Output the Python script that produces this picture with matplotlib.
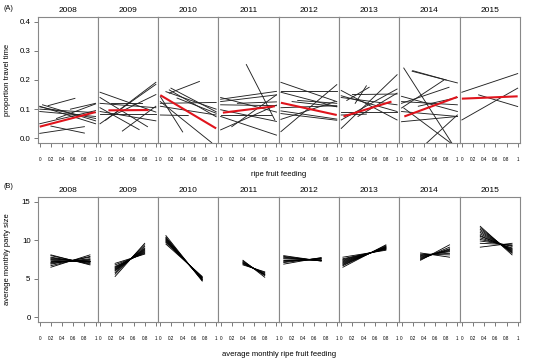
import numpy as np
import matplotlib.pyplot as plt

plt.rcParams['font.family'] = ['Liberation Sans', 'DejaVu Sans']

years = ['2008', '2009', '2010', '2011', '2012', '2013', '2014', '2015']
x_ticks = [0, 0.2, 0.4, 0.6, 0.8, 1]
x_tick_labels = ['0', '0.2', '0.4', '0.6', '0.8', '1']

# (A) individual lines: (x0, y0, x1, y1)
travel_2008 = [(0, 0.110, 1, 0.050), (0, 0.108, 1, 0.068), (0.15, 0.112, 0.63, 0.137),
               (0, 0.092, 1, 0.075), (0.05, 0.115, 1, 0.060), (0.3, 0.068, 1, 0.118),
               (0.55, 0.100, 1, 0.120), (0, 0.017, 0.8, 0.040), (0.2, 0.042, 0.8, 0.018),
               (0, 0.050, 1, 0.095), (0, 0.100, 1, 0.088)]
travel_2009 = [(0, 0.158, 1, 0.090), (0, 0.140, 0.85, 0.040), (0, 0.050, 1, 0.185),
               (0.1, 0.062, 1, 0.192), (0.4, 0.025, 1, 0.110), (0, 0.120, 1, 0.105),
               (0, 0.092, 1, 0.060), (0, 0.085, 1, 0.085), (0.2, 0.120, 0.75, 0.120),
               (0, 0.105, 0.7, 0.030), (0.25, 0.080, 1, 0.150)]
travel_2010 = [(0, 0.143, 0.4, 0.022), (0, 0.126, 0.92, -0.015), (0.19, 0.172, 1, 0.091),
               (0.16, 0.166, 1, 0.074), (0.16, 0.155, 0.7, 0.195), (0, 0.120, 1, 0.123),
               (0, 0.080, 0.5, 0.078), (0, 0.110, 1, 0.080), (0.3, 0.138, 1, 0.086),
               (0.1, 0.160, 1, 0.100)]
travel_2011 = [(0.46, 0.253, 0.97, 0.063), (0, 0.134, 1, 0.161), (0, 0.126, 1, 0.149),
               (0, 0.115, 1, 0.112), (0, 0.098, 1, 0.058), (0, 0.029, 1, 0.114),
               (0.2, 0.040, 1, 0.149), (0, 0.075, 1, 0.011), (0, 0.081, 0.9, 0.081),
               (0.3, 0.120, 1, 0.125), (0, 0.140, 1, 0.090)]
travel_2012 = [(0, 0.192, 1, 0.126), (0, 0.164, 1, 0.164), (0, 0.158, 1, 0.108),
               (0, 0.094, 1, 0.066), (0, 0.023, 1, 0.184), (0, 0.065, 0.97, 0.126),
               (0.2, 0.126, 1, 0.109), (0, 0.085, 1, 0.062), (0, 0.105, 1, 0.112),
               (0.3, 0.130, 1, 0.120)]
travel_2013 = [(0, 0.164, 1, 0.063), (0, 0.146, 1, 0.092), (0, 0.034, 1, 0.218),
               (0, 0.063, 1, 0.169), (0.25, 0.120, 0.45, 0.180), (0, 0.090, 1, 0.090),
               (0.2, 0.150, 1, 0.152), (0, 0.080, 0.45, 0.083), (0, 0.140, 1, 0.115),
               (0.3, 0.075, 1, 0.155), (0.1, 0.130, 0.5, 0.175)]
travel_2014 = [(0.04, 0.241, 0.9, -0.016), (0.19, 0.230, 1, 0.190), (0.2, 0.232, 0.8, 0.200),
               (0, 0.104, 0.76, 0.200), (0, 0.120, 0.85, 0.175), (0, 0.144, 1, 0.092),
               (0, 0.126, 1, 0.115), (0, 0.092, 1, 0.075), (0, 0.057, 1, 0.075),
               (0.04, 0.104, 0.88, -0.016), (0.45, -0.016, 1, 0.080), (0.3, 0.110, 1, 0.140)]
travel_2015 = [(0, 0.158, 1, 0.222), (0, 0.063, 1, 0.172), (0.3, 0.149, 1, 0.109)]
travel_lines = [travel_2008, travel_2009, travel_2010, travel_2011,
                travel_2012, travel_2013, travel_2014, travel_2015]

# (A) red mean lines
mean_travel = [(0, 0.040, 1, 0.090), (0.15, 0.096, 0.87, 0.097), (0, 0.148, 1, 0.034),
               (0.04, 0.088, 0.97, 0.110), (0, 0.122, 1, 0.080), (0.04, 0.075, 0.9, 0.126),
               (0.05, 0.075, 1, 0.142), (0, 0.136, 1, 0.144)]

# (B) party size fan lines
party_x = [(0.2, 0.9), (0.27, 0.8), (0.1, 0.75), (0.4, 0.79),
           (0.05, 0.72), (0.03, 0.8), (0.34, 0.86), (0.33, 0.9)]
party_start = [
    [6.5, 6.7, 6.9, 7.0, 7.1, 7.2, 7.3, 7.4, 7.5, 7.6, 7.7, 7.8, 8.0, 8.1],
    [5.3, 5.6, 5.8, 6.0, 6.1, 6.2, 6.3, 6.4, 6.5, 6.6, 6.8, 7.0],
    [9.5, 9.7, 9.8, 9.9, 10.0, 10.1, 10.2, 10.3, 10.4, 10.6],
    [6.8, 6.9, 7.0, 7.05, 7.1, 7.2, 7.3, 7.4],
    [6.9, 7.1, 7.2, 7.3, 7.4, 7.5, 7.6, 7.7, 7.8, 7.9, 8.0],
    [6.5, 6.7, 6.8, 6.9, 7.0, 7.1, 7.2, 7.3, 7.4, 7.5, 7.6, 7.8],
    [7.4, 7.5, 7.6, 7.7, 7.8, 7.9, 8.0, 8.1, 8.2, 8.35],
    [9.1, 9.6, 9.9, 10.1, 10.3, 10.5, 10.6, 10.8, 11.0, 11.2, 11.4, 11.6, 11.8],
]
party_end = [
    [8.1, 7.9, 7.8, 7.6, 7.5, 7.4, 7.3, 7.2, 7.3, 7.2, 7.1, 7.0, 6.9, 6.8],
    [9.6, 9.4, 9.2, 9.0, 8.9, 8.8, 8.7, 8.6, 8.5, 8.4, 8.3, 8.2],
    [5.3, 5.2, 5.15, 5.1, 5.0, 4.95, 4.9, 4.85, 4.8, 4.7],
    [5.9, 5.8, 5.7, 5.6, 5.55, 5.5, 5.4, 5.2],
    [7.75, 7.7, 7.65, 7.6, 7.55, 7.5, 7.45, 7.4, 7.35, 7.3, 7.3],
    [9.4, 9.3, 9.2, 9.15, 9.1, 9.05, 9.0, 8.95, 8.9, 8.85, 8.8, 8.7],
    [9.4, 9.1, 8.9, 8.8, 8.7, 8.6, 8.5, 8.3, 8.1, 7.8],
    [9.6, 9.4, 9.3, 9.2, 9.0, 8.9, 8.8, 8.7, 8.6, 8.5, 8.4, 8.3, 8.1],
]

W, H = 538, 358
fig = plt.figure(figsize=(W / 100, H / 100), dpi=100)

left = 37.5
pw = 60.3
spine_col = '#888888'


def make_panel(i, top, bottom):
    ax = fig.add_axes([(left + i * pw) / W, (H - bottom) / H, pw / W, (bottom - top) / H])
    for s in ax.spines.values():
        s.set_color(spine_col)
        s.set_linewidth(0.8)
    ax.set_xlim(-0.04, 1.04)
    ax.set_xticks(x_ticks)
    ax.set_xticklabels(x_tick_labels, fontsize=3.3)
    ax.tick_params(axis='x', direction='out', length=2.8, width=0.5, color='#444444', pad=7)
    ax.text(0.5, 1.025, years[i], transform=ax.transAxes, ha='center', va='bottom', fontsize=6)
    return ax


for i in range(8):
    ax = make_panel(i, 17, 143)
    ax.set_ylim(-0.016, 0.416)
    for x0, y0, x1, y1 in travel_lines[i]:
        ax.plot([x0, x1], [y0, y1], color='#222222', lw=0.65)
    x0, y0, x1, y1 = mean_travel[i]
    ax.plot([x0, x1], [y0, y1], color='#e0141c', lw=1.5, solid_capstyle='butt')
    if i == 0:
        ax.set_yticks([0, 0.1, 0.2, 0.3, 0.4])
        ax.set_yticklabels(['0.0', '0.1', '0.2', '0.3', '0.4'], fontsize=5.7)
        ax.tick_params(axis='y', direction='out', length=3, width=0.5, color='#444444', pad=2)
    else:
        ax.set_yticks([])

for i in range(8):
    ax = make_panel(i, 197, 322)
    ax.set_ylim(-0.6, 15.6)
    xa, xb = party_x[i]
    for ya, yb in zip(party_start[i], party_end[i]):
        ax.plot([xa, xb], [ya, yb], color='black', lw=0.6)
    if i == 0:
        ax.set_yticks([0, 5, 10, 15])
        ax.set_yticklabels(['0', '5', '10', '15'], fontsize=5.7)
        ax.tick_params(axis='y', direction='out', length=3, width=0.5, color='#444444', pad=2)
    else:
        ax.set_yticks([])

fig.text(3 / W, 1 - 8 / H, '(A)', fontsize=5.2, va='center', ha='left')
fig.text(3 / W, 1 - 187 / H, '(B)', fontsize=5.2, va='center', ha='left')
fig.text(7.5 / W, 1 - 80 / H, 'proportion travel time', rotation=90, fontsize=5.5,
         va='center', ha='center')
fig.text(7.5 / W, 1 - 259.5 / H, 'average monthly party size', rotation=90, fontsize=5.5,
         va='center', ha='center')
fig.text(279 / W, 1 - 174 / H, 'ripe fruit feeding', fontsize=5.5, va='center', ha='center')
fig.text(279 / W, 1 - 354 / H, 'average monthly ripe fruit feeding', fontsize=5.5,
         va='center', ha='center')

fig.savefig('out.png', dpi=100)
